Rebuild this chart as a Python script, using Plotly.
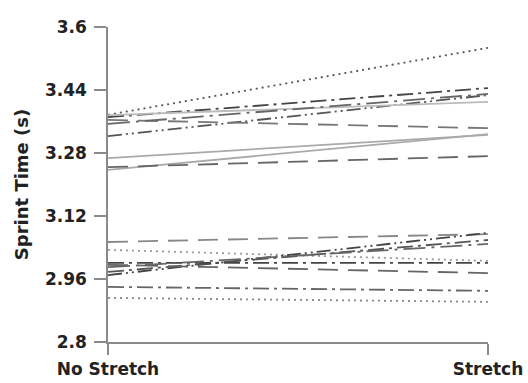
import plotly.graph_objects as go

# Conditions on the x axis
conditions = ["No Stretch", "Stretch"]

# Sprint time (s) per participant under each condition
no_stretch = [3.377, 3.371, 3.323, 3.376, 3.364, 3.354, 3.267, 3.237, 3.244,
              3.054, 3.034, 2.970, 2.978, 3.001, 2.996, 2.990, 2.940, 2.912]
stretch = [3.547, 3.445, 3.427, 3.410, 3.343, 3.430, 3.326, 3.328, 3.272,
           3.074, 3.006, 3.077, 3.059, 3.001, 2.975, 3.049, 2.930, 2.902]

# Y-axis ticks
y_ticks = [2.8, 2.96, 3.12, 3.28, 3.44, 3.6]
y_tick_labels = ["2.8", "2.96", "3.12", "3.28", "3.44", "3.6"]

# Line styling per participant
DOT = "2px,4px"
DASH = "20px,10px"
DASHDOT = "16px,5px,3px,5px"
DASHDOTDOT = "14px,4px,2px,4px,2px,4px"
LONGDASHDOT = "22px,6px,3px,6px"
line_dash = [DOT, DASHDOT, DASHDOTDOT, "solid", DASH, LONGDASHDOT, "solid", "solid", DASH,
             DASH, DOT, DASHDOTDOT, DASHDOT, DASHDOT, DASH, LONGDASHDOT, DASHDOT, DOT]
line_color = ["#555555", "#444444", "#555555", "#bbbbbb", "#777777", "#666666", "#aaaaaa", "#aaaaaa", "#666666",
              "#888888", "#999999", "#444444", "#555555", "#444444", "#666666", "#666666", "#666666", "#888888"]

fig = go.Figure()
x_pos = [0, 1]
for pre, post, dash, color in zip(no_stretch, stretch, line_dash, line_color):
    fig.add_trace(go.Scatter(
        x=x_pos, y=[pre, post], mode="lines",
        line=dict(color=color, width=1.8, dash=dash),
        showlegend=False, hoverinfo="skip",
    ))

tick_font = dict(family="DejaVu Sans", size=17, color="#222222", weight="bold")

fig.update_layout(
    width=528, height=383,
    margin=dict(l=108, r=40, t=27, b=41),
    paper_bgcolor="white", plot_bgcolor="white",
    xaxis=dict(
        range=[0, 1], tickmode="array", tickvals=x_pos, ticktext=conditions,
        showgrid=False, zeroline=False, showline=True, linecolor="#8a8a8a", linewidth=1.5,
        ticks="outside", ticklen=11, tickwidth=1.5, tickcolor="#8a8a8a",
        tickfont=tick_font, automargin=False, fixedrange=True,
    ),
    yaxis=dict(
        range=[2.8, 3.6], tickmode="array", tickvals=y_ticks, ticktext=y_tick_labels,
        showgrid=False, zeroline=False, showline=True, linecolor="#8a8a8a", linewidth=1.5,
        ticks="outside", ticklen=12, tickwidth=1.5, tickcolor="#8a8a8a",
        tickfont=tick_font, ticklabelstandoff=4, automargin=False,
        title=dict(text="Sprint Time (s)", standoff=12,
                   font=dict(family="DejaVu Sans", size=18, color="#222222", weight="bold")),
        fixedrange=True,
    ),
)

fig.write_html("out.html")
